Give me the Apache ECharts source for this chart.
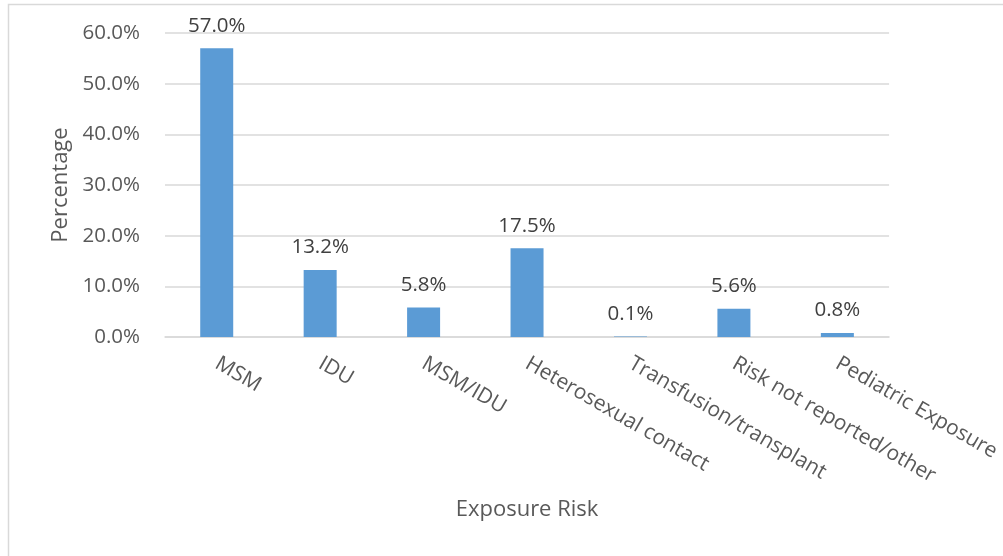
<!DOCTYPE html>
<html>
<head>
<meta charset="utf-8">
<script src="https://cdn.jsdelivr.net/npm/echarts@6/dist/echarts.min.js"></script>
<style>
html,body{margin:0;padding:0;background:#fff;}
#c{width:1003px;height:556px;}
</style>
</head>
<body>
<div id="c"></div>
<script>
const categories = ['MSM','IDU','MSM/IDU','Heterosexual contact','Transfusion/transplant','Risk not reported/other','Pediatric Exposure'];
const values = [57.0, 13.2, 5.8, 17.5, 0.1, 5.6, 0.8];
const xAxisTitle = 'Exposure Risk';
const yAxisTitle = 'Percentage';

const font = 'Open Sans, Liberation Sans, sans-serif';
const chart = echarts.init(document.getElementById('c'), null, {renderer:'canvas'});
chart.setOption({
  animation:false,
  backgroundColor:'#fff',
  graphic:[{type:'rect', shape:{x:8.5,y:4.5,width:1010,height:570}, style:{fill:'none', stroke:'#d9d9d9', lineWidth:1.5}, silent:true}],
  grid:{left:165, right:110, top:33, bottom:219, containLabel:false},
  xAxis:{
    type:'category', data:categories,
    name:xAxisTitle, nameLocation:'middle', nameGap:162,
    nameTextStyle:{fontFamily:font, fontSize:22, color:'#595959'},
    axisLine:{lineStyle:{color:'#d9d9d9', width:1.5}},
    axisTick:{show:false},
    axisLabel:{rotate:-30, interval:0, margin:25, fontFamily:font, fontSize:21, color:'#595959'}
  },
  yAxis:{
    type:'value', min:0, max:60, interval:10,
    name:yAxisTitle, nameLocation:'middle', nameGap:92,
    nameTextStyle:{fontFamily:font, fontSize:22, color:'#595959'},
    axisLine:{show:false}, axisTick:{show:false},
    splitLine:{lineStyle:{color:'#d9d9d9', width:1.5}},
    axisLabel:{margin:25, fontFamily:font, fontSize:20.5, color:'#595959', formatter:v=>v.toFixed(1)+'%'}
  },
  series:[{
    type:'bar', data:values, barWidth:33,
    itemStyle:{color:'#5b9bd5'},
    label:{show:true, position:'top', distance:12, fontFamily:font, fontSize:20.5, color:'#404040', formatter:p=>p.value.toFixed(1)+'%'}
  }]
});
</script>
</body>
</html>
